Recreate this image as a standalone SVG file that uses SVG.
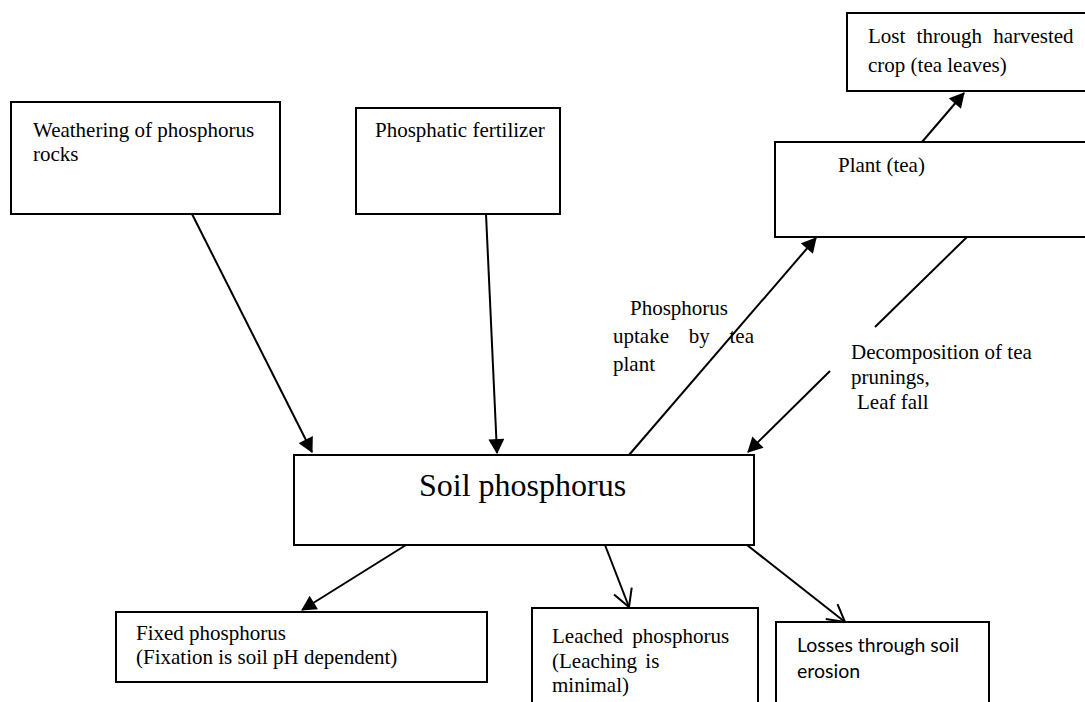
<svg xmlns="http://www.w3.org/2000/svg" width="1085" height="702" viewBox="0 0 1085 702">
  <style>
    .box { fill: #ffffff; stroke: #000000; stroke-width: 2; }
    .lbl { font-family: "Liberation Serif", "Times New Roman", serif; font-size: 21px; fill: #000000; }
    .big { font-family: "Liberation Serif", "Times New Roman", serif; font-size: 32px; fill: #000000; }
    .sans { font-family: Lato, "Liberation Sans", sans-serif; font-size: 19.5px; fill: #000000; }
    .link { fill: none; stroke: #000000; stroke-width: 2; }
  </style>
  <defs>
    <marker id="solid" markerUnits="userSpaceOnUse" markerWidth="16" markerHeight="16" viewBox="0 0 15 16" refX="14" refY="8" orient="auto">
      <path d="M0,0 L15,8 L0,16 Z" fill="#000000"/>
    </marker>
    <marker id="open" markerUnits="userSpaceOnUse" markerWidth="22" markerHeight="22" viewBox="-1 -1 20 22" refX="17" refY="9.5" orient="auto">
      <path d="M0,0 L17,9.5 L0,19" fill="none" stroke="#000000" stroke-width="2"/>
    </marker>
  </defs>

  <rect width="1085" height="702" fill="#ffffff"/>

  <!-- connectors -->
  <g id="connectors">
    <path class="link" d="M192,214 L312,452" marker-end="url(#solid)"/>
    <path class="link" d="M486,214 L497,453" marker-end="url(#solid)"/>
    <path class="link" d="M629,455 L816,238" marker-end="url(#solid)"/>
    <path class="link" d="M922,142 L964,93" marker-end="url(#solid)"/>
    <path class="link" d="M967,237 L875,327 M830,371 L748,452" marker-end="url(#solid)"/>
    <path class="link" d="M406,545 L302,610" marker-end="url(#solid)"/>
    <path class="link" d="M605,545 L629,607" marker-end="url(#open)"/>
    <path class="link" d="M747,545 L845,622" marker-end="url(#open)"/>
  </g>

  <!-- sources -->
  <g id="weathering">
    <rect class="box" x="11" y="102" width="269" height="112"/>
    <text class="lbl" x="33" y="137">Weathering of phosphorus</text>
    <text class="lbl" x="33" y="161">rocks</text>
  </g>

  <g id="fertilizer">
    <rect class="box" x="356" y="108" width="204" height="106"/>
    <text class="lbl" x="375" y="137">Phosphatic fertilizer</text>
  </g>

  <g id="harvest">
    <rect class="box" x="847" y="13" width="250" height="78"/>
    <text class="lbl" x="868" y="43" word-spacing="6">Lost through harvested</text>
    <text class="lbl" x="868" y="72">crop (tea leaves)</text>
  </g>

  <g id="plant">
    <rect class="box" x="775" y="142" width="320" height="95"/>
    <text class="lbl" x="838" y="172">Plant (tea)</text>
  </g>

  <!-- flow labels -->
  <g id="uptake-label">
    <text class="lbl" x="630" y="315">Phosphorus</text>
    <text class="lbl" x="613" y="343" word-spacing="14.5">uptake by tea</text>
    <text class="lbl" x="613" y="371">plant</text>
  </g>

  <g id="decomposition-label">
    <text class="lbl" x="851" y="359">Decomposition of tea</text>
    <text class="lbl" x="851" y="384">prunings,</text>
    <text class="lbl" x="857" y="409">Leaf fall</text>
  </g>

  <!-- central pool -->
  <g id="soil">
    <rect class="box" x="294" y="455" width="460" height="90"/>
    <text class="big" x="419" y="496">Soil phosphorus</text>
  </g>

  <!-- sinks -->
  <g id="fixed">
    <rect class="box" x="116" y="612" width="371" height="70"/>
    <text class="lbl" x="136" y="640">Fixed phosphorus</text>
    <text class="lbl" x="136" y="664">(Fixation is soil pH dependent)</text>
  </g>

  <g id="leached">
    <rect class="box" x="532" y="608" width="226" height="110"/>
    <text class="lbl" x="552" y="643" word-spacing="4">Leached phosphorus</text>
    <text class="lbl" x="552" y="668" word-spacing="3">(Leaching is</text>
    <text class="lbl" x="552" y="692">minimal)</text>
  </g>

  <g id="erosion">
    <rect class="box" x="776" y="622" width="213" height="100"/>
    <text class="sans" x="797" y="652" textLength="162" lengthAdjust="spacingAndGlyphs">Losses through soil</text>
    <text class="sans" x="797" y="678">erosion</text>
  </g>
</svg>
